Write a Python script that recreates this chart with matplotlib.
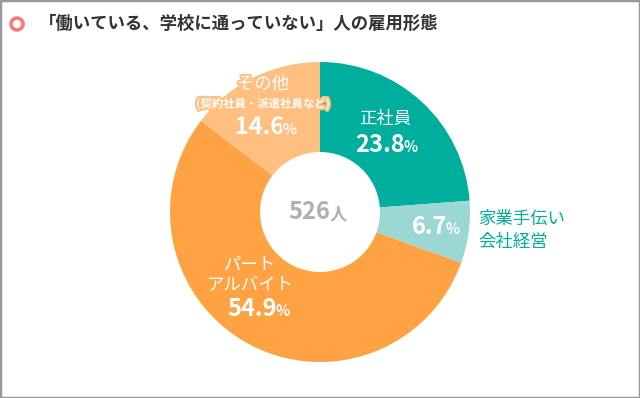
import matplotlib
matplotlib.use("Agg")
import matplotlib.pyplot as plt
import matplotlib.patheffects as pe
from matplotlib.patches import Rectangle, Circle

plt.rcParams["font.family"] = ["Noto Sans CJK JP", "DejaVu Sans"]

# data
categories = ["正社員", "家業手伝い\n会社経営", "パート\nアルバイト", "その他"]
shares = [23.8, 6.7, 54.9, 14.6]
colors = ["#00ae9d", "#9bd8d3", "#ffa244", "#ffbf80"]
total_people = 526
title = "「働いている、学校に通っていない」人の雇用形態"

W, H = 640, 398
fig = plt.figure(figsize=(W / 100, H / 100), dpi=100)
ax = fig.add_axes([0, 0, 1, 1])


def Y(py):
    return H - py


ax.pie(shares, colors=colors, radius=150, center=(320, Y(212)),
       startangle=90, counterclock=False,
       wedgeprops=dict(width=90, linewidth=0))
ax.set_xlim(0, W)
ax.set_ylim(0, H)
ax.set_aspect("equal")
ax.axis("off")

# frame and title
fig.patches.append(Rectangle((0, 0), 1, 1, transform=fig.transFigure,
                             fill=False, edgecolor="#999999", linewidth=2.5))
ax.add_patch(Circle((17, Y(24)), 6, fill=False, edgecolor="#f47c7c", linewidth=2.6))
ax.text(39, Y(24), title, fontsize=12.5, fontweight="bold", color="#333333",
        ha="left", va="center")

# center
ax.text(330, Y(212), f"{total_people}", fontsize=17, fontweight="bold",
        color="#b0b0b0", ha="right", va="center")
ax.text(330, Y(214), "人", fontsize=12.5, fontweight="bold",
        color="#b0b0b0", ha="left", va="center")


def pct(x, y, value, color="white", effects=None):
    ax.text(x, Y(y), f"{value}", fontsize=17, fontweight="bold", color=color,
            ha="right", va="baseline", path_effects=effects)
    ax.text(x - 1, Y(y), "%", fontsize=10.5, fontweight="bold", color=color,
            ha="left", va="baseline", path_effects=effects)


# 正社員
ax.text(385, Y(119), categories[0], fontsize=12.5, color="white", ha="center", va="center")
pct(405, 152, shares[0])

# 家業手伝い
pct(447, 234, shares[1])
ax.text(478, Y(230), categories[1], fontsize=12.5, color="#00ae9d",
        ha="left", va="center", linespacing=1.35)

# パート
ax.text(250, Y(275), categories[2], fontsize=12.5, color="white",
        ha="center", va="center", linespacing=1.1)
pct(277, 316, shares[2])

# その他
outline = [pe.withStroke(linewidth=3, foreground="#ffbf80")]
ax.text(263, Y(84), categories[3], fontsize=12.5, color="white", ha="center",
        va="center", path_effects=outline)
ax.text(263, Y(104), "(契約社員・派遣社員など)", fontsize=8.2, fontweight="bold",
        color="white", ha="center", va="center", path_effects=outline)
pct(284, 134, shares[3], effects=outline)

fig.savefig("out.png", dpi=100)
